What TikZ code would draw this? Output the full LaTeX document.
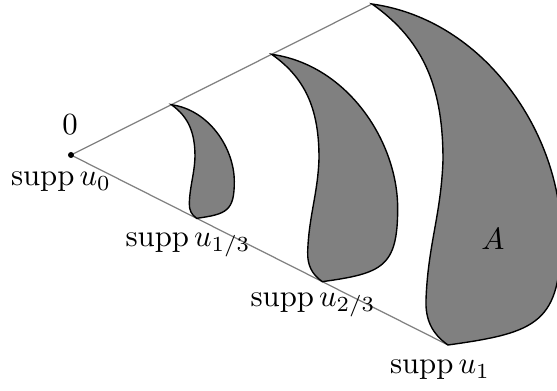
\documentclass[tikz,border=0pt]{standalone}
\usepackage{amsmath}
\begin{document}
\begin{tikzpicture}[x=0.325pt,y=0.325pt,
  ray/.style={draw=gray,line width=0.4pt},
  blob/.style={draw=black,fill=gray,line width=0.45pt},
  lab/.style={inner sep=0pt}]
\useasboundingbox (-71,-236) rectangle (486,155);
\coordinate (O) at (0,0);
\coordinate (T) at (301,151);
\coordinate (B) at (377,-190);
\draw[ray] (O) -- (T);
\draw[ray] (O) -- (B);
\foreach \s in {0.3333,0.6667,1}{
  \begin{scope}[scale=\s]
    \path[blob] (301,151) to[out=-35,in=90] (372,-5)
      to[out=-92,in=88] (355,-145)
      to[out=-92,in=145] (377,-190)
      .. controls (467,-177.5) and (490,-168) .. (490,-80)
      .. controls (490,20) and (414.9,135) .. (301,151) -- cycle;
  \end{scope}
}
\fill (O) circle (3);
\node[lab] (zero) at (-1,30) {$0$};
\node[lab] (l0) at (-10,-27) {$\operatorname{supp} u_0$};
\node[lab] (l13) at (117,-90) {$\operatorname{supp} u_{1/3}$};
\node[lab] (l23) at (242,-150) {$\operatorname{supp} u_{2/3}$};
\node[lab] (l1) at (369,-215) {$\operatorname{supp} u_1$};
\node[lab] (A) at (422,-84) {$A$};
\end{tikzpicture}
\end{document}
